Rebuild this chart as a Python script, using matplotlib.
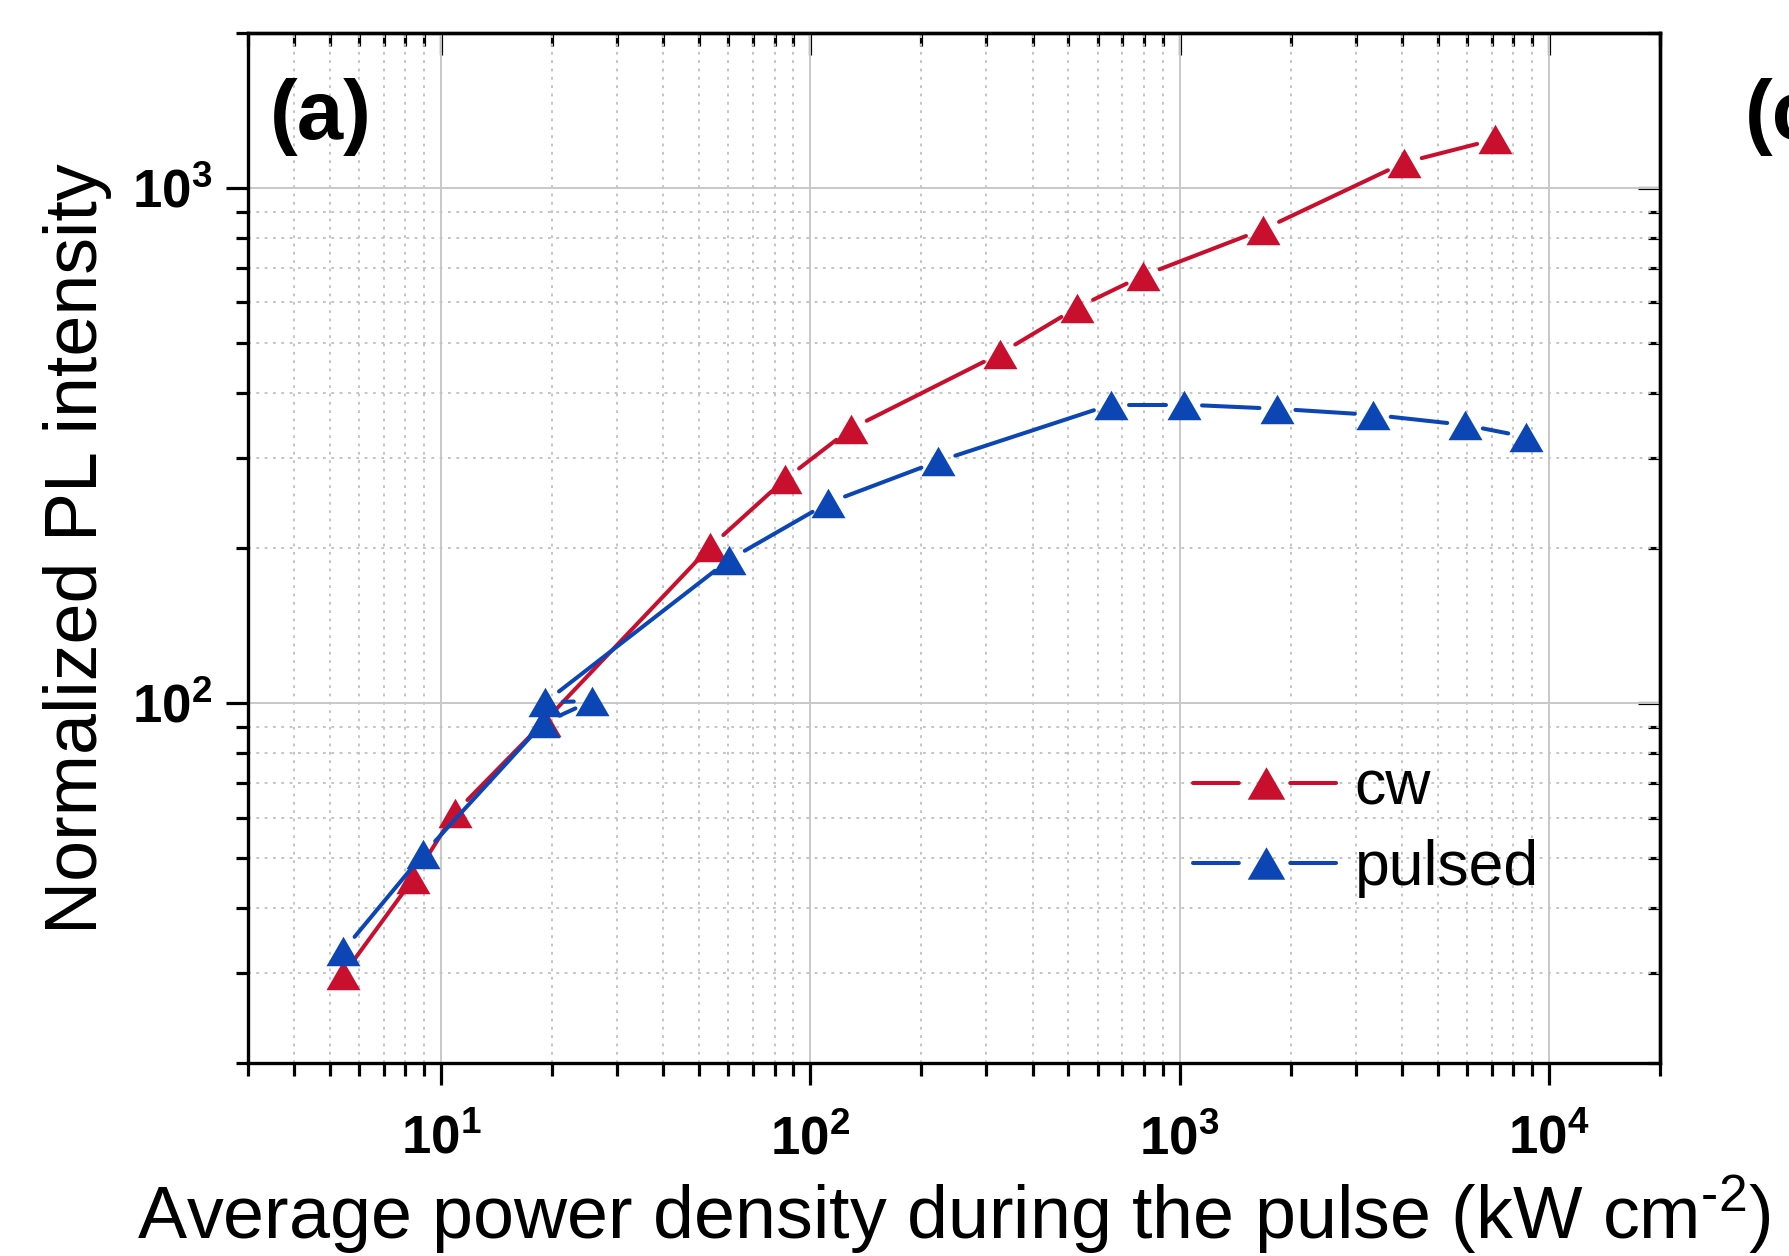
import matplotlib.pyplot as plt
from matplotlib.lines import Line2D
from matplotlib.ticker import LogLocator, FuncFormatter, NullFormatter
import numpy as np

plt.rcParams['font.family'] = ['Liberation Sans', 'DejaVu Sans']
plt.rcParams['mathtext.fontset'] = 'custom'
plt.rcParams['mathtext.rm'] = 'Liberation Sans'
plt.rcParams['mathtext.it'] = 'Liberation Sans:italic'
plt.rcParams['mathtext.bf'] = 'Liberation Sans:bold'
plt.rcParams['lines.scale_dashes'] = False

# PL intensity vs average power density during the pulse (kW cm^-2)
cw_power = [5.43, 8.40, 10.9, 19.0, 53.5, 85.3, 128.6, 326, 527, 795, 1680, 4058, 7127]
cw_intensity = [29.7, 45.6, 61.3, 92, 201, 272, 341, 477, 586, 676, 831, 1121, 1243]

pulsed_power = [5.43, 8.94, 18.9, 25.6, 19.1, 60.3, 111.8, 222, 652, 1028, 1841, 3337, 5932, 8664]
pulsed_intensity = [33.1, 50.9, 91.5, 101.1, 100.4, 190, 245, 295, 380, 380, 373, 363, 347, 329]

RED = '#c8102e'
BLUE = '#0b46b4'
TRIANGLE = [(-1, -0.866), (1, -0.866), (0, 0.866)]
GAP_PX = 18      # line stops this far (pixels) from each symbol centre
MARKER_SIZE = 24.5
LINE_W = 2.9


def draw_gapped_series(ax, x, y, color, z):
  """ line + triangles, the line interrupted around every symbol """
  pts = ax.transData.transform(np.column_stack([x, y]))
  inv = ax.transData.inverted()
  for p0, p1 in zip(pts[:-1], pts[1:]):
    d = p1 - p0
    length = np.hypot(d[0], d[1])
    if length <= 2 * GAP_PX:
      continue
    u = d / length
    a, b = inv.transform(np.array([p0 + u * GAP_PX, p1 - u * GAP_PX]))
    ax.plot([a[0], b[0]], [a[1], b[1]], color=color, lw=LINE_W,
            solid_capstyle='round', zorder=z)
  ax.plot(x, y, ls='none', marker=TRIANGLE, ms=MARKER_SIZE, mew=0,
          color=color, zorder=z + 1)


def decade_label(v, _):
  return r'$\mathbf{10^{%d}}$' % int(round(np.log10(v)))


fig = plt.figure(figsize=(17.9, 12.56), dpi=100)
ax = fig.add_axes([0.1385, 0.1533, 0.7889, 0.8204])
ax.set_xscale('log')
ax.set_yscale('log')
ax.set_xlim(3, 2e4)
ax.set_ylim(20, 2000)

ax.xaxis.set_major_locator(LogLocator(base=10))
ax.xaxis.set_minor_locator(LogLocator(base=10, subs=np.arange(2, 10)))
ax.yaxis.set_major_locator(LogLocator(base=10))
ax.yaxis.set_minor_locator(LogLocator(base=10, subs=np.arange(2, 10)))
ax.xaxis.set_major_formatter(FuncFormatter(decade_label))
ax.yaxis.set_major_formatter(FuncFormatter(decade_label))
ax.xaxis.set_minor_formatter(NullFormatter())
ax.yaxis.set_minor_formatter(NullFormatter())

ax.set_axisbelow(True)
ax.grid(True, which='major', color='#c8c8c8', lw=1.4, ls='-')
ax.grid(True, which='minor', color='#c4c4c4', lw=1.4, ls=(0, (2.0, 4.0)))

for s in ax.spines.values():
  s.set_linewidth(2.4)
ax.tick_params(which='both', direction='out', top=False, right=False,
               width=2.3, labelsize=38)
ax.tick_params(which='major', length=16)
ax.tick_params(which='minor', length=9)
ax.tick_params(axis='x', pad=21)
ax.tick_params(axis='y', pad=10)

# inward ticks on the top and right edges
top = ax.secondary_xaxis('top')
top.xaxis.set_major_locator(LogLocator(base=10))
top.xaxis.set_minor_locator(LogLocator(base=10, subs=np.arange(2, 10)))
top.tick_params(which='both', direction='in', labeltop=False, width=2.3)
top.tick_params(which='major', length=16)
top.tick_params(which='minor', length=9)
top.spines['top'].set_linewidth(2.4)
right = ax.secondary_yaxis('right')
right.yaxis.set_major_locator(LogLocator(base=10))
right.yaxis.set_minor_locator(LogLocator(base=10, subs=np.arange(2, 10)))
right.tick_params(which='both', direction='in', labelright=False, width=2.3)
right.tick_params(which='major', length=16)
right.tick_params(which='minor', length=9)
right.spines['right'].set_linewidth(2.4)

draw_gapped_series(ax, cw_power, cw_intensity, RED, 3)
draw_gapped_series(ax, pulsed_power, pulsed_intensity, BLUE, 5)

ax.set_xlabel(r'Average power density during the pulse (kW cm$^{\text{-}2}$)', fontsize=53, labelpad=6)
ax.set_ylabel('Normalized PL intensity', fontsize=53, labelpad=14)

# legend handles: line broken around the symbol
handles = []
for color in (RED, BLUE):
  seg = Line2D([], [], color=color, lw=LINE_W, dashes=(33, 37),
               dash_capstyle='round')
  sym = Line2D([], [], ls='none', marker=TRIANGLE, ms=27, mew=0, color=color)
  handles.append((seg, sym))
ax.legend(handles, ['cw', 'pulsed'], loc='upper left',
          bbox_to_anchor=(0.669, 0.296), frameon=False, fontsize=45,
          handlelength=2.34, handletextpad=0.25, labelspacing=0.34,
          borderpad=0, borderaxespad=0)

fig.text(0.1508, 0.9379, '(a)', fontsize=60, fontweight='bold', va='top', ha='left')
fig.text(0.9749, 0.9379, '(c)', fontsize=60, fontweight='bold', va='top', ha='left')

fig.savefig('out.png', dpi=100)
